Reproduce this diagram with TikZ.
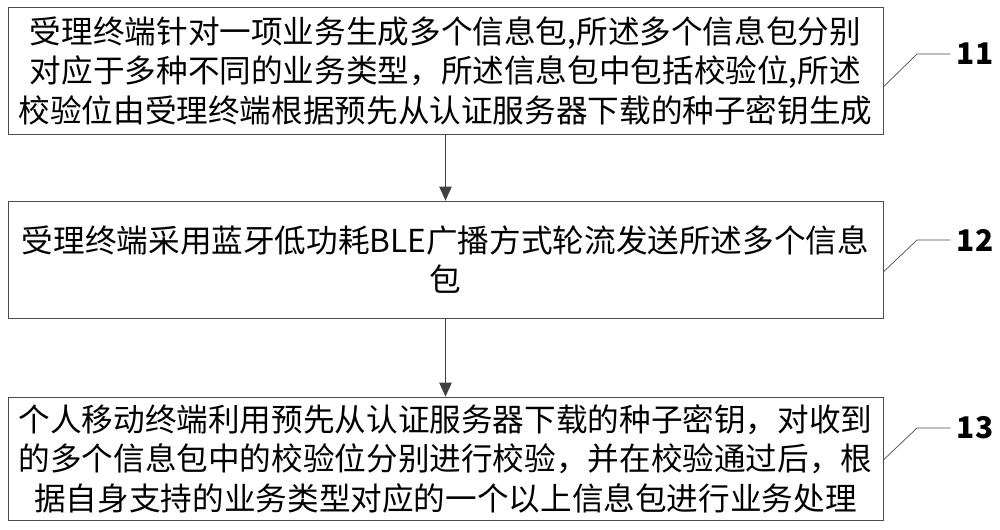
\documentclass[tikz,border=0pt]{standalone}
\usepackage{fontspec}
\setmainfont{Noto Sans CJK SC}
\usetikzlibrary{arrows.meta}
\tikzset{stepbox/.style={draw=black!70, minimum width=17.5cm, text width=17.3cm, align=center, inner sep=0pt, font=\fontsize{18}{22.5}\selectfont},
  flow/.style={-{Triangle[length=8pt,width=7pt]}, thick, black!75},
  lead/.style={black!70}}
\begin{document}
\begin{tikzpicture}[x=0.02cm, y=-0.02cm]
\useasboundingbox (0,0) rectangle (1000,529);
\node[stepbox, minimum height=2.54cm] (s1) at (445.5,70.5) {受理终端针对一项业务生成多个信息包,所述多个信息包分别\\对应于多种不同的业务类型，所述信息包中包括校验位,所述\\校验位由受理终端根据预先从认证服务器下载的种子密钥生成};
\node[stepbox, minimum height=2.34cm] (s2) at (445.5,259.5) {受理终端采用蓝牙低功耗BLE广播方式轮流发送所述多个信息\\包};
\node[stepbox, minimum height=2.46cm] (s3) at (445.5,458.5) {个人移动终端利用预先从认证服务器下载的种子密钥，对收到\\的多个信息包中的校验位分别进行校验，并在校验通过后，根\\据自身支持的业务类型对应的一个以上信息包进行业务处理};
\draw[flow] (s1) -- (s2);
\draw[flow] (s2) -- (s3);
% step numbers
\node[font=\fontsize{17}{17}\bfseries] (n1) at (975,54) {11};
\node[font=\fontsize{17}{17}\bfseries] (n2) at (975,240) {12};
\node[font=\fontsize{17}{17}\bfseries] (n3) at (975,428) {13};
\draw[lead] (s1.east |- 0,87) -- (917,54) -- (n1.west);
\draw[lead] (s2.east |- 0,272) -- (917,240) -- (n2.west);
\draw[lead] (s3.east |- 0,460) -- (917,428) -- (n3.west);
\end{tikzpicture}
\end{document}
